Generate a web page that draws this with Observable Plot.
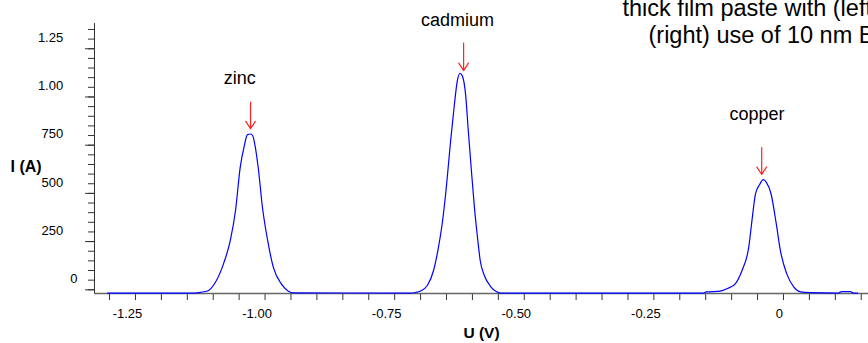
<!DOCTYPE html>
<html><head><meta charset="utf-8">
<script src="https://cdn.jsdelivr.net/npm/d3@7"></script>
<script src="https://cdn.jsdelivr.net/npm/@observablehq/plot@0.6"></script>
<style>
html,body{margin:0;padding:0;background:#fff;overflow:hidden;}
#chart{width:868px;height:343px;overflow:hidden;}
</style></head><body><div id="chart"></div>
<script>
// Stripping voltammogram
const voltage = [-1.304, -1.134, -1.125, -1.111, -1.096, -1.080, -1.067, -1.057, -1.048, -1.040, -1.034, -1.028, -1.024, -1.019, -1.013, -1.005, -0.995, -0.984, -0.968, -0.955, -0.945,
  -0.720, -0.710, -0.700, -0.687, -0.675, -0.666, -0.658, -0.650, -0.642, -0.635, -0.629, -0.624, -0.619, -0.613, -0.608, -0.602, -0.596, -0.590, -0.585, -0.577, -0.565, -0.554, -0.546,
  -0.154, -0.149, -0.122, -0.108, -0.093, -0.080, -0.067, -0.060, -0.054, -0.046, -0.039, -0.033, -0.024, -0.014, -0.006, 0.006, 0.020, 0.033, 0.052, 0.106, 0.112, 0.129, 0.135, 0.143];
const current = [-17, -17, -13, -6, 38, 136, 256, 411, 634, 748, 805, 808, 800, 743, 629, 427, 256, 116, 28, -7, -16,
  -17, -14, -6, 22, 100, 214, 349, 541, 774, 956, 1086, 1123, 1106, 1008, 826, 619, 422, 266, 152, 74, 17, -9, -17,
  -17, -11, -7, 7, 31, 100, 221, 377, 498, 546, 571, 557, 498, 344, 204, 85, 14, -11, -15, -17, -9, -9, -17, -17];

const peakNames = ["zinc", "cadmium", "copper"];
const labelVoltage = [-1.049, -0.629, -0.051];
const labelCurrent = [1098, 1396, 908];
const arrowVoltage = [-1.028, -0.617, -0.042];
const arrowStart = [973, 1279, 738];
const arrowEnd = [835, 1137, 598];

const xTickValues = [-1.25, -1, -0.75, -0.5, -0.25, 0];
const xTickLabels = ["-1.25", "-1.00", "-0.75", "-0.50", "-0.25", "0"];
const yTickValues = [0, 250, 500, 750, 1000, 1250];
const yTickLabels = ["0", "250", "500", "750", "1.00", "1.25"];
const xLabel = "U (V)";
const yLabel = "I (A)";
const titleLine1 = "thick film paste with (left)";
const titleLine2 = "(right) use of 10 nm Bi";
const xDomain = [-1.329, 0.164];
const yDomain = [-19.2, 1381];

const curve = voltage.map((v, i) => ({v, c: current[i]}));
const labels = peakNames.map((n, i) => ({n, v: labelVoltage[i], c: labelCurrent[i]}));
const arrows = peakNames.map((n, i) => ({v: arrowVoltage[i], c1: arrowStart[i], c2: arrowEnd[i]}));
const xTicks = xTickValues.map((v, i) => ({v, t: xTickLabels[i]}));
const yTicks = yTickValues.map((v, i) => ({v, t: yTickLabels[i]}));
const xMinor = d3.range(-26, 4).map(k => k * 0.05);
const yMinor = d3.range(0, 28).map(k => k * 50);

const font = "'Liberation Sans', Arial, Helvetica, sans-serif";

const chart = Plot.plot({
  width: 868,
  height: 343,
  marginLeft: 94,
  marginRight: 0,
  marginTop: 23,
  marginBottom: 50,
  style: {fontFamily: font, background: "#fff", color: "#000", overflow: "hidden"},
  x: {domain: xDomain, axis: null},
  y: {domain: yDomain, axis: null},
  marks: [
    // x axis ticks and labels
    Plot.ruleX(xMinor, {x: d => d, y1: () => yDomain[0], y2: () => yDomain[0], insetBottom: -7, stroke: "#333"}),
    Plot.text(xTicks.filter(d => d.v !== 0), {x: "v", text: "t", frameAnchor: "bottom", dy: 15, dx: -8,
      lineAnchor: "top", fontSize: 13, fill: "#000"}),
    Plot.text(xTicks.filter(d => d.v === 0), {x: "v", text: "t", frameAnchor: "bottom", dy: 15, dx: -4,
      lineAnchor: "top", fontSize: 13, fill: "#000"}),
    Plot.ruleY([yDomain[0]], {stroke: "#666", strokeWidth: 1.5}),
    // y axis ticks and labels
    Plot.ruleY(yMinor, {y: d => d, x1: () => xDomain[0], x2: () => xDomain[0], insetLeft: -6, stroke: "#333"}),
    Plot.ruleY(yTickValues, {y: d => d, x1: () => xDomain[0], x2: () => xDomain[0], insetLeft: -9, stroke: "#333"}),
    Plot.text(yTicks.filter(d => d.v !== 0), {y: "v", text: "t", frameAnchor: "left", dx: -31.3, dy: -11,
      textAnchor: "end", lineAnchor: "middle", fontSize: 13, fill: "#000"}),
    Plot.text(yTicks.filter(d => d.v === 0), {y: "v", text: "t", frameAnchor: "left", dx: -17, dy: -11,
      textAnchor: "end", lineAnchor: "middle", fontSize: 13, fill: "#000"}),
    Plot.ruleX([xDomain[0]], {stroke: "#333", strokeWidth: 1}),
    // axis labels
    Plot.text([xLabel], {text: d => d, frameAnchor: "bottom", dy: 40, lineAnchor: "middle", fontWeight: "bold", fontSize: 15.5}),
    Plot.text([yLabel], {text: d => d, frameAnchor: "left", dx: -84, dy: 8.5, textAnchor: "start", lineAnchor: "middle", fontWeight: "bold", fontSize: 16}),
    // curve
    Plot.line(curve, {x: "v", y: "c", stroke: "#0000ff", strokeWidth: 1.2, curve: "monotone-x"}),
    // annotations
    Plot.arrow(arrows, {x1: "v", x2: "v", y1: "c1", y2: "c2", stroke: "#ff2222", strokeWidth: 1.2, headLength: 11, headAngle: 66}),
    Plot.text(labels, {x: "v", y: "c", text: "n", fontSize: 18, lineAnchor: "middle", fill: "#000"}),
    // title (cut off at right edge, as in the source)
    Plot.text([titleLine1], {text: d => d, frameAnchor: "top-left", dx: 528, dy: -8, textAnchor: "start", lineAnchor: "bottom", fontSize: 23.5, fill: "#000"}),
    Plot.text([titleLine2], {text: d => d, frameAnchor: "top-left", dx: 554, dy: 19, textAnchor: "start", lineAnchor: "bottom", fontSize: 23.5, fill: "#000"})
  ]
});
document.getElementById("chart").append(chart);
</script>
</body></html>
